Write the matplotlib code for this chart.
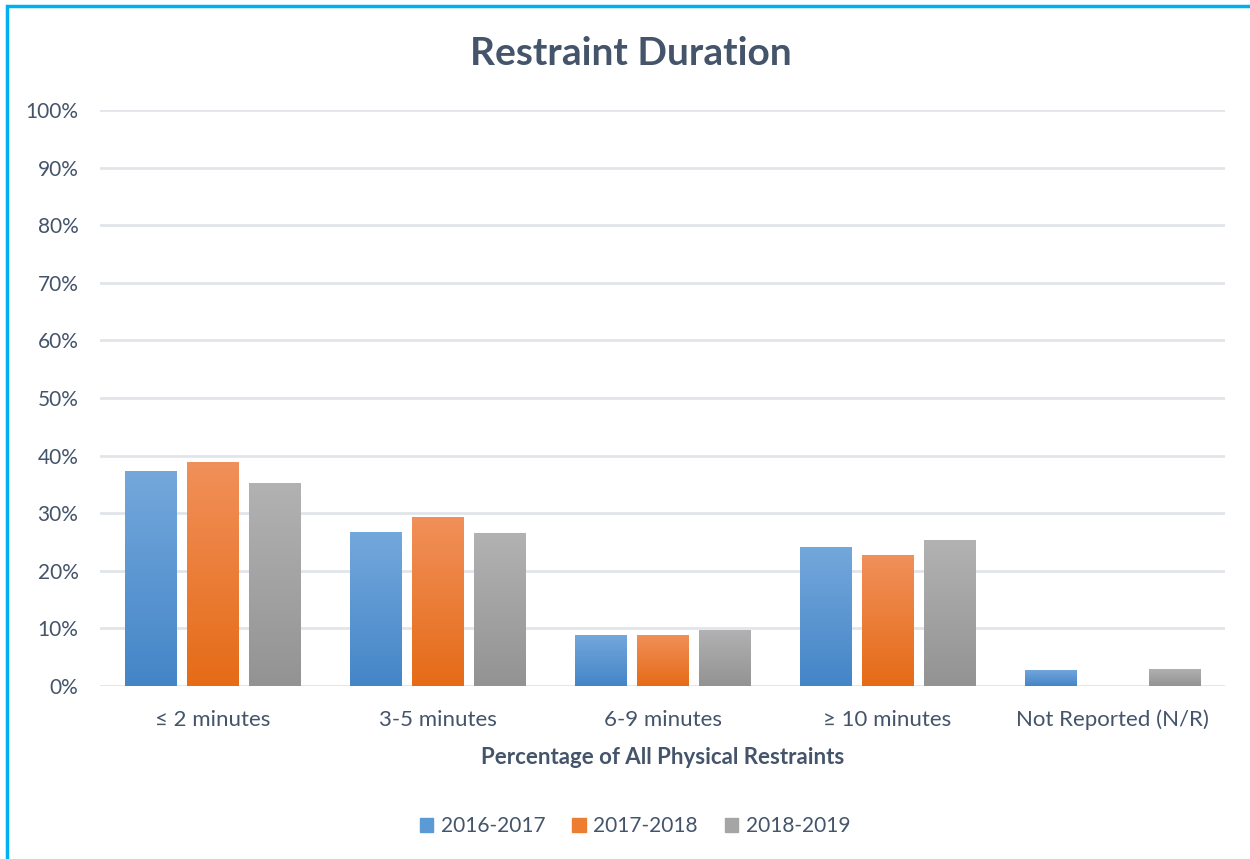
import matplotlib
matplotlib.use("Agg")
import matplotlib.pyplot as plt
import numpy as np
from matplotlib.patches import Rectangle
from matplotlib.colors import LinearSegmentedColormap

categories = ["≤ 2 minutes", "3-5 minutes", "6-9 minutes", "≥ 10 minutes", "Not Reported (N/R)"]
series = ["2016-2017", "2017-2018", "2018-2019"]
v2016 = [37.4, 26.7, 8.9, 24.2, 2.8]
v2017 = [38.8, 29.3, 8.9, 22.7, 0.0]
v2018 = [35.2, 26.5, 9.8, 25.3, 3.0]
values = [v2016, v2017, v2018]
yticks = [0, 10, 20, 30, 40, 50, 60, 70, 80, 90, 100]

top_colors = ["#74A8DC", "#F1905A", "#B2B2B2"]
bot_colors = ["#4485C7", "#E56B17", "#939393"]
legend_colors = ["#5B9BD5", "#ED7D31", "#A5A5A5"]
txt = "#44546A"

plt.rcParams['font.family'] = ['Lato', 'DejaVu Sans']
fig = plt.figure(figsize=(12.5, 8.59), dpi=100)
ax = fig.add_axes([0.08, 0.2014, 0.90, 0.6706])

# border
fig.patches.append(Rectangle((7/1250, -0.1), 1.2, 1 - 6/859 + 0.1, transform=fig.transFigure,
                             fill=False, edgecolor="#00B0F0", linewidth=2.5, zorder=10))

x = np.arange(len(categories))
width = 0.227
step = 0.276
grad = np.linspace(0, 1, 256).reshape(-1, 1)
for i, (vals, tc, bc) in enumerate(zip(values, top_colors, bot_colors)):
    cmap = LinearSegmentedColormap.from_list(f"g{i}", [bc, tc])
    bars = ax.bar(x + (i - 1) * step, [v / 100 for v in vals], width, color=tc, zorder=2)
    for b in bars:
        h = b.get_height()
        if h <= 0:
            continue
        im = ax.imshow(grad, cmap=cmap, aspect='auto', origin='lower',
                       extent=[b.get_x(), b.get_x() + b.get_width(), 0, h], zorder=3)
        im.set_clip_path(b)
        b.set_facecolor('none')

ax.set_xlim(-0.5, len(categories) - 0.5)
ax.set_ylim(0, 1)
ax.set_yticks([t / 100 for t in yticks])
ax.set_yticklabels([f"{t}%" for t in yticks])
ax.set_xticks(x)
ax.set_xticklabels(categories)
ax.tick_params(axis='both', length=0, colors=txt)
ax.tick_params(axis='y', pad=15.5, labelsize=15)
ax.tick_params(axis='x', pad=17, labelsize=16)
ax.yaxis.grid(True, color="#E1E5EA", linewidth=2, zorder=0)
ax.set_axisbelow(True)
for s in ax.spines.values():
    s.set_visible(False)
ax.set_xlabel("Percentage of All Physical Restraints", fontsize=16, fontweight='bold', color=txt, labelpad=12)
fig.text(0.505, 0.938, "Restraint Duration", ha='center', va='center', fontsize=28, fontweight='bold', color=txt)

handles = [Rectangle((0, 0), 1, 1, color=c) for c in legend_colors]
fig.legend(handles, series, loc='center', bbox_to_anchor=(0.508, 0.038), ncol=3, frameon=False,
           fontsize=15, labelcolor=txt, handlelength=0.65, handleheight=0.65, handletextpad=0.35,
           columnspacing=1.3)

fig.savefig("out.png", dpi=100, facecolor="white")
